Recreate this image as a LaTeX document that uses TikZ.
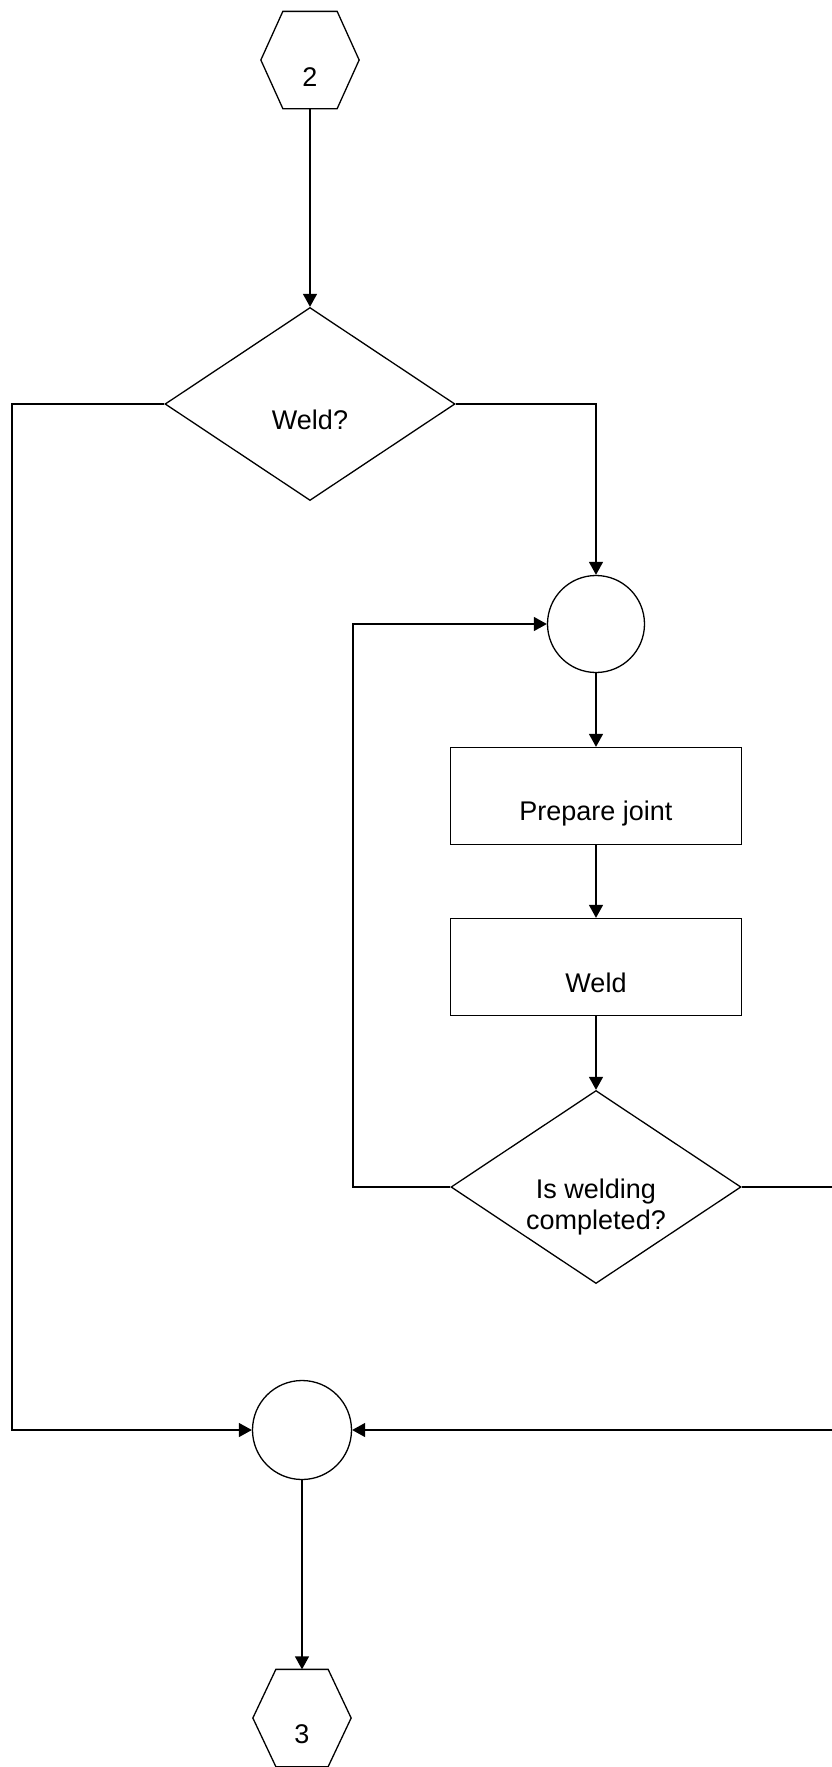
\documentclass[tikz,border=0pt]{standalone}
\usepackage{fontspec}
\setmainfont{Liberation Sans}
\usetikzlibrary{shapes.geometric,arrows.meta,calc}
\begin{document}
\begin{tikzpicture}[x=1pt,y=-1pt,
  line width=1.3pt,
  flow/.style={-{Triangle[length=13pt,width=14pt]}},
  decision/.style={draw,diamond,minimum width=290pt,minimum height=193pt,inner sep=0pt},
  process/.style={draw,rectangle,minimum width=291pt,minimum height=97pt,inner sep=0pt},
  junction/.style={draw,circle,inner sep=0pt},
  connector/.style={rectangle,minimum width=97pt,minimum height=96pt,inner sep=0pt},
  txt/.style={font=\fontsize{27pt}{31pt}\selectfont,align=center,inner sep=0pt}
]
\useasboundingbox (0,0) rectangle (832,1767);

% off-page connector "2"
\node[connector] (c2) at (310,60) {};
\draw ($(c2.north west)+(22,0)$) -- ($(c2.north east)+(-22,0)$) -- (c2.east)
  -- ($(c2.south east)+(-22,0)$) -- ($(c2.south west)+(22,0)$) -- (c2.west) -- cycle;
\node[txt,anchor=base] (t2) at (310,86) {2};

% decision: weld or not
\node[decision] (weld) at (310,404) {};
\node[txt,anchor=base] (tweld) at (310,429) {Weld?};

% loop entry junction
\node[junction,minimum size=97pt] (loopin) at (596,624) {};

% process steps
\node[process] (prep) at (596,796) {};
\node[txt,anchor=base] (tprep) at (596,820) {Prepare joint};
\node[process] (weldbox) at (596,967) {};
\node[txt,anchor=base] (tweldbox) at (596,992) {Weld};

% decision: welding completed
\node[decision] (done) at (596,1187) {};
\node[txt] (tdone) at (596,1207) {Is welding\\completed?};

% merge junction
\node[junction,minimum size=99pt] (merge) at (302,1430) {};

% off-page connector "3"
\node[connector] (c3) at (302,1718) {};
\draw ($(c3.north west)+(23,0)$) -- ($(c3.north east)+(-23,0)$) -- (c3.east)
  -- ($(c3.south east)+(-23,0)$) -- ($(c3.south west)+(23,0)$) -- (c3.west) -- cycle;
\node[txt,anchor=base] (t3) at (302,1743) {3};

% routing corners
\coordinate (skipcorner) at (12,404);
\coordinate (loopcorner) at (353,1187);
\coordinate (exitcorner) at (860,1187);

% connectors
\draw[flow] (c2.south) -- (weld.north);
\draw[flow] (weld.east) -| (loopin.north);
\draw[flow] (loopin.south) -- (prep.north);
\draw[flow] (prep.south) -- (weldbox.north);
\draw[flow] (weldbox.south) -- (done.north);
\draw[flow] (done.west) -- (loopcorner) |- (loopin.west);
\draw[flow] (weld.west) -- (skipcorner) |- (merge.west);
\draw[flow] (done.east) -- (exitcorner) |- (merge.east);
\draw[flow] (merge.south) -- (c3.north);
\end{tikzpicture}
\end{document}
